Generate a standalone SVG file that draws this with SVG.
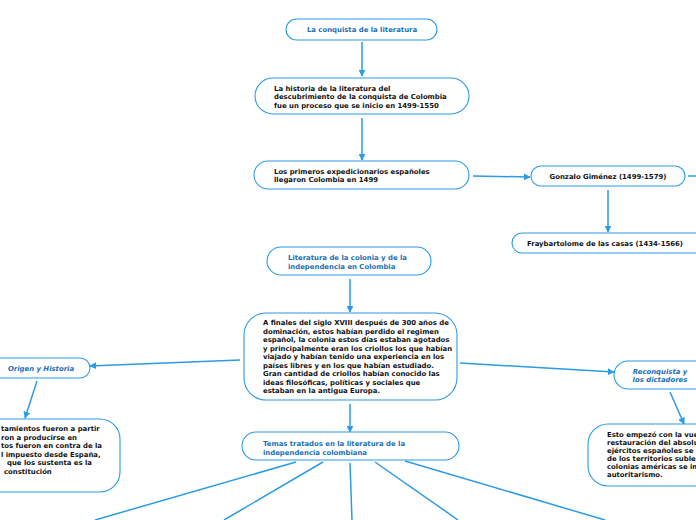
<svg xmlns="http://www.w3.org/2000/svg" width="696" height="520" viewBox="0 0 696 520">
<defs>
<marker id="ah" viewBox="0 0 10 10" refX="9" refY="5" markerWidth="7" markerHeight="7" markerUnits="userSpaceOnUse" orient="auto">
<path d="M0,0 L10,5 L0,10 z" fill="#2a9be4"/>
</marker>
<style>
.n{fill:#fff;stroke:#2a9be4;stroke-width:1.1}
.c{fill:none;stroke:#2a9be4;stroke-width:1.5}
.t{font-family:"DejaVu Sans",Verdana,sans-serif;font-size:6.9px;font-weight:bold;fill:#111}
.b{font-family:"DejaVu Sans",Verdana,sans-serif;font-size:6.9px;font-weight:bold;fill:#1a6fb5}
.i{font-family:"DejaVu Sans",Verdana,sans-serif;font-size:6.9px;font-weight:bold;font-style:italic;fill:#1a6fb5}
</style>
</defs>
<rect width="696" height="520" fill="#fff"/>
<g id="connectors">
<path class="c" d="M362,42 L362,76" marker-end="url(#ah)"/>
<path class="c" d="M362,118 L362,160" marker-end="url(#ah)"/>
<path class="c" d="M473,176 L530,177" marker-end="url(#ah)"/>
<path class="c" d="M688,176 L696,176"/>
<path class="c" d="M608,190 L608,232" marker-end="url(#ah)"/>
<path class="c" d="M350,279 L350,312" marker-end="url(#ah)"/>
<path class="c" d="M240,360 L90,366" marker-end="url(#ah)"/>
<path class="c" d="M460,363 L614,372" marker-end="url(#ah)"/>
<path class="c" d="M350,404 L350,432" marker-end="url(#ah)"/>
<path class="c" d="M37,381 L25,418" marker-end="url(#ah)"/>
<path class="c" d="M670,392 L684,424" marker-end="url(#ah)"/>
<path class="c" d="M296,462 L95,520"/>
<path class="c" d="M323,462 L224,520"/>
<path class="c" d="M350,463 L352,520"/>
<path class="c" d="M375,462 L458,520"/>
<path class="c" d="M405,461 L605,520"/>
</g>
<g id="n1">
<rect class="n" x="286" y="19" width="151" height="21" rx="10.5"/>
<text class="b" x="362" y="32" text-anchor="middle">La conquista de la literatura</text>
</g>
<g id="n2">
<rect class="n" x="255" y="78" width="214" height="36" rx="18"/>
<text class="t" x="274" y="90.5">La historia de la literatura del</text>
<text class="t" x="274" y="99">descubrimiento de la conquista de Colombia</text>
<text class="t" x="274" y="107.5">fue un proceso que se inicio en 1499-1550</text>
</g>
<g id="n3">
<rect class="n" x="254" y="161" width="215" height="28" rx="14"/>
<text class="t" x="274" y="173.5">Los primeros expedicionarios españoles</text>
<text class="t" x="274" y="182">llegaron  Colombia en 1499</text>
</g>
<g id="n4">
<rect class="n" x="531" y="166" width="154" height="20" rx="10"/>
<text class="t" x="608" y="179" text-anchor="middle">Gonzalo Giménez (1499-1579)</text>
</g>
<g id="n5">
<rect class="n" x="512" y="233" width="200" height="20" rx="10"/>
<text class="t" x="527" y="246">Fraybartolome de las casas (1434-1566)</text>
</g>
<g id="n6">
<rect class="n" x="267" y="247" width="164" height="28" rx="14"/>
<text class="b" x="288" y="259.5">Literatura de la colonia y de la</text>
<text class="b" x="288" y="268.5">independencia en Colombia</text>
</g>
<g id="n7">
<rect class="n" x="244" y="313" width="213" height="87" rx="22"/>
<text class="t" x="263" y="325">A finales del siglo XVIII después de 300 años de</text>
<text class="t" x="263" y="333.5">dominación, estos habían perdido el regimen</text>
<text class="t" x="263" y="342">español, la colonia estos días estaban agotados</text>
<text class="t" x="263" y="350.5">y principalmente eran los criollos los que habían</text>
<text class="t" x="263" y="359">viajado y habían tenido una experiencia en los</text>
<text class="t" x="263" y="367.5">países libres y en los que habían estudiado.</text>
<text class="t" x="263" y="376">Gran cantidad de criollos habían conocido las</text>
<text class="t" x="263" y="384.5">ideas filosóficas, políticas y sociales que</text>
<text class="t" x="263" y="393">estaban en la antigua Europa.</text>
</g>
<g id="n8">
<rect class="n" x="-20" y="358" width="110" height="20" rx="10"/>
<text class="i" x="41" y="371" text-anchor="middle">Origen y Historia</text>
</g>
<g id="n9">
<rect class="n" x="-40" y="419" width="160" height="73" rx="20"/>
<text class="t" x="1" y="431">tamientos fueron a partir</text>
<text class="t" x="1" y="439.5">ron a producirse en</text>
<text class="t" x="1" y="448">tos fueron en contra de la</text>
<text class="t" x="1" y="456.5">l impuesto desde España,</text>
<text class="t" x="7" y="465">que los sustenta es la</text>
<text class="t" x="4" y="474">constitución</text>
</g>
<g id="n10">
<rect class="n" x="614" y="361" width="100" height="28" rx="14"/>
<text class="i" x="660" y="373.5" text-anchor="middle">Reconquista y</text>
<text class="i" x="660" y="382" text-anchor="middle">los dictadores</text>
</g>
<g id="n11">
<rect class="n" x="588" y="424" width="130" height="62" rx="20"/>
<text class="t" x="607" y="436.5">Esto empezó con la vuelt</text>
<text class="t" x="607" y="444.5">restauración del absoluti</text>
<text class="t" x="607" y="452.5">ejércitos españoles se la</text>
<text class="t" x="607" y="460.5">de los territorios subleva</text>
<text class="t" x="607" y="468.5">colonias américas se imp</text>
<text class="t" x="607" y="476.5">autoritarismo.</text>
</g>
<g id="n12">
<rect class="n" x="242" y="432" width="217" height="28" rx="14"/>
<text class="b" x="263" y="445.5">Temas tratados en la literatura de la</text>
<text class="b" x="263" y="454.5">independencia colombiana</text>
</g>
</svg>
